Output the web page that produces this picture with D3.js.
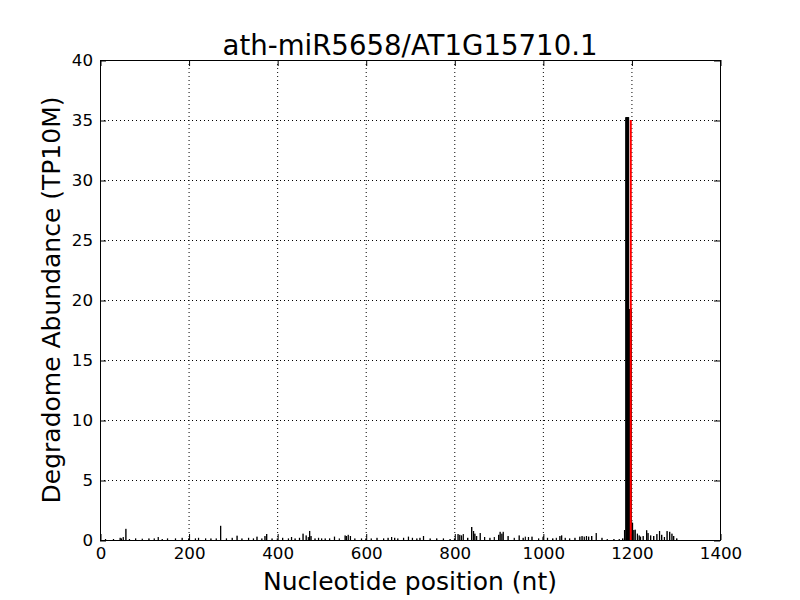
<!DOCTYPE html>
<html>
<head>
<meta charset="utf-8">
<script src="https://cdn.jsdelivr.net/npm/d3@7"></script>
<style>
  body { margin: 0; background: #fff; }
  svg { display: block; }
  text { font-family: "DejaVu Sans", sans-serif; fill: #000; }
</style>
</head>
<body>
<svg id="chart" width="800" height="600"></svg>
<script>
// ---------------- data ----------------
const title = "ath-miR5658/AT1G15710.1";
const xLabel = "Nucleotide position (nt)";
const yLabel = "Degradome Abundance (TP10M)";
const xTicks = [0, 200, 400, 600, 800, 1000, 1200, 1400];
const yTicks = [0, 5, 10, 15, 20, 25, 30, 35, 40];
const cleavageSite = 1198;
const cleavageValue = 35.0;

// nucleotide positions and degradome abundances
const positions = [
  12, 30, 45, 48, 52, 58, 66, 80, 95, 110, 122, 131, 140, 152, 170, 185, 200, 215, 222, 238, 250, 262, 272, 285, 298, 309, 320, 335, 346, 354, 365, 372, 376, 388, 400,
  412, 425, 432, 440, 450, 458, 465, 470, 473, 476, 485, 493, 500, 508, 518, 529, 540, 553, 556, 560, 565, 575, 590, 600,
  612, 625, 640, 650, 658, 665, 672, 685, 696, 705, 715, 722, 730, 745, 760, 775, 790, 800,
  808, 812, 816, 820, 830, 839, 843, 846, 850, 858, 868, 880, 890, 900, 903, 907, 910, 921, 935, 946, 955, 960, 967, 975, 990, 1000,
  1010, 1022, 1030, 1038, 1042, 1050, 1060, 1072, 1083, 1088, 1093, 1098, 1103, 1110, 1120, 1133, 1145, 1160, 1172, 1180, 1184,
  1187, 1188, 1189, 1190, 1191, 1192, 1193, 1194, 1195, 1196, 1197, 1198, 1199, 1200, 1202, 1205, 1208, 1213, 1217, 1220, 1226,
  1234, 1237, 1243, 1250, 1257, 1263, 1268, 1274, 1280, 1286, 1291, 1295, 1302
];
const values = [
  0.05, 0.05, 0.15, 0.1, 0.2, 0.9, 0.05, 0.1, 0.08, 0.1, 0.1, 0.2, 0.05, 0.1, 0.1, 0.15, 0.1, 0.1, 0.15, 0.1, 0.1, 0.1, 1.15, 0.1, 0.15, 0.33, 0.1, 0.15, 0.1, 0.25, 0.1, 0.3, 0.45, 0.1, 0.1,
  0.15, 0.1, 0.2, 0.1, 0.15, 0.5, 0.35, 0.2, 0.72, 0.3, 0.1, 0.15, 0.1, 0.1, 0.1, 0.25, 0.1, 0.35, 0.3, 0.4, 0.3, 0.1, 0.1, 0.1,
  0.1, 0.15, 0.1, 0.15, 0.2, 0.15, 0.1, 0.15, 0.25, 0.15, 0.1, 0.15, 0.3, 0.1, 0.1, 0.1, 0.05, 0.1,
  0.45, 0.4, 0.35, 0.45, 0.15, 1.05, 0.7, 0.5, 0.3, 0.55, 0.2, 0.15, 0.2, 0.4, 0.65, 0.5, 0.65, 0.3, 0.15, 0.35, 0.15, 0.25, 0.2, 0.25, 0.1, 0.2,
  0.15, 0.1, 0.15, 0.3, 0.35, 0.15, 0.1, 0.15, 0.25, 0.3, 0.25, 0.3, 0.25, 0.3, 0.55, 0.15, 0.05, 0.05, 0.05, 0.1, 0.8,
  35.2, 35.2, 35.2, 35.2, 35.2, 35.2, 35.2, 19.2, 19.2, 19.2, 19.2, 19.2, 19.2, 1.5, 1.4, 0.8, 0.83, 0.5, 0.35, 0.25, 0.3,
  0.78, 0.55, 0.35, 0.3, 0.45, 0.7, 0.4, 0.2, 0.7, 0.65, 0.5, 0.3, 0.1
];

// ---------------- layout ----------------
const svg = d3.select("#chart");
const mLeft = 100, mRight = 720, mTop = 60, mBottom = 540;
const x = d3.scaleLinear().domain([0, 1400]).range([mLeft, mRight]);
const y = d3.scaleLinear().domain([0, 40]).range([mBottom, mTop]);

// grid
const grid = svg.append("g");
grid.selectAll(".gx").data(xTicks).join("line")
  .attr("x1", d => x(d) + 0.5).attr("x2", d => x(d) + 0.5)
  .attr("y1", mTop).attr("y2", mBottom)
  .attr("stroke", "#000").attr("stroke-width", 1)
  .attr("stroke-dasharray", "1,3");
grid.selectAll(".gy").data(yTicks).join("line")
  .attr("x1", mLeft).attr("x2", mRight)
  .attr("y1", d => y(d) + 0.5).attr("y2", d => y(d) + 0.5)
  .attr("stroke", "#000").attr("stroke-width", 1)
  .attr("stroke-dasharray", "1,3");

// bars
const data = positions.map((p, i) => ({ p, v: values[i] }));
svg.append("g").selectAll("rect").data(data).join("rect")
  .attr("x", d => x(d.p))
  .attr("width", d => x(d.p + 1) - x(d.p))
  .attr("y", d => y(d.v))
  .attr("height", d => y(0) - y(d.v))
  .attr("fill", "#000")
  .attr("stroke", "#000")
  .attr("stroke-width", 0.8);

// cleavage site line
svg.append("line")
  .attr("x1", x(cleavageSite + 0.5)).attr("x2", x(cleavageSite + 0.5))
  .attr("y1", y(0)).attr("y2", y(cleavageValue))
  .attr("stroke", "#ff0000").attr("stroke-width", 2);

// frame
svg.append("rect")
  .attr("x", mLeft + 0.5).attr("y", mTop + 0.5)
  .attr("width", mRight - mLeft).attr("height", mBottom - mTop)
  .attr("fill", "none").attr("stroke", "#000").attr("stroke-width", 1);

// axes with inward ticks on all sides
const tickLen = 6;
const xAxisB = d3.axisBottom(x).tickValues(xTicks).tickSize(-tickLen).tickPadding(7).tickFormat(d3.format("d"));
const xAxisT = d3.axisTop(x).tickValues(xTicks).tickSize(-tickLen).tickFormat("");
const yAxisL = d3.axisLeft(y).tickValues(yTicks).tickSize(-tickLen).tickPadding(7).tickFormat(d3.format("d"));
const yAxisR = d3.axisRight(y).tickValues(yTicks).tickSize(-tickLen).tickFormat("");

function style(g) {
  g.select(".domain").remove();
  g.selectAll(".tick line").attr("stroke", "#000").attr("stroke-width", 1);
  g.selectAll(".tick text").attr("font-family", "DejaVu Sans, sans-serif").attr("font-size", 16.7).attr("fill", "#000");
}
svg.append("g").attr("transform", `translate(0.5,${mBottom})`).call(xAxisB).call(style);
svg.append("g").attr("transform", `translate(0.5,${mTop})`).call(xAxisT).call(style);
svg.append("g").attr("transform", `translate(${mLeft},0.5)`).call(yAxisL).call(style);
svg.append("g").attr("transform", `translate(${mRight},0.5)`).call(yAxisR).call(style);

// texts
svg.append("text").attr("x", (mLeft + mRight) / 2).attr("y", 55)
  .attr("text-anchor", "middle").attr("font-size", 27.6).text(title);
svg.append("text").attr("x", (mLeft + mRight) / 2).attr("y", 590)
  .attr("text-anchor", "middle").attr("font-size", 25).text(xLabel);
svg.append("text")
  .attr("transform", `translate(60,${(mTop + mBottom) / 2}) rotate(-90)`)
  .attr("text-anchor", "middle").attr("font-size", 25).text(yLabel);
</script>
</body>
</html>
